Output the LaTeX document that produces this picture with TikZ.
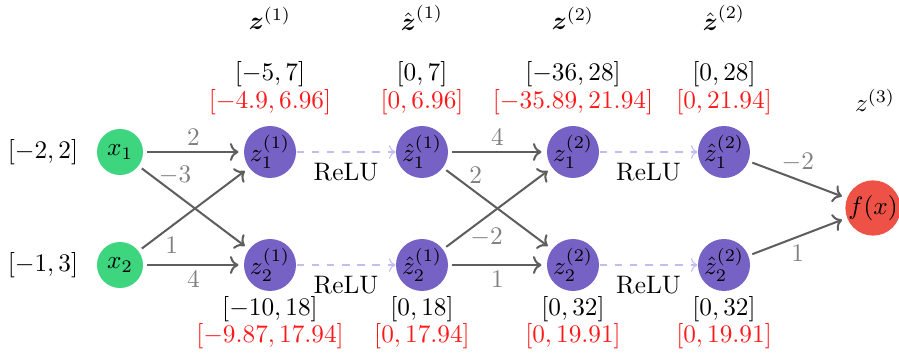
\documentclass[tikz,border=0pt]{standalone}
\usepackage{amsmath,amssymb}
\usepackage{tikz}
\usepackage{xcolor}
\usetikzlibrary{arrows.meta,positioning,calc}
\definecolor{inp}{HTML}{3DD67F}
\definecolor{hid}{HTML}{7661C5}
\definecolor{outc}{HTML}{EE5246}
\definecolor{edge}{HTML}{5E5E5E}
\definecolor{wgt}{HTML}{808080}
\definecolor{relu}{HTML}{C4BCF0}
\definecolor{bound}{HTML}{FF1A1A}
\tikzset{
  neuron/.style={circle, inner sep=0pt, minimum size=0.64cm},
  innode/.style={neuron, fill=inp},
  hidnode/.style={neuron, fill=hid},
  outnode/.style={neuron, fill=outc, minimum size=0.70cm},
  wire/.style={->, line width=0.8pt, draw=edge, shorten >=2pt, shorten <=1.5pt},
  reluarrow/.style={->, dashed, draw=relu, line width=0.45pt},
  weight/.style={text=wgt, inner sep=2pt},
  ivl/.style={text=black, inner sep=0pt},
  tight/.style={text=bound, inner sep=0pt}
}

\begin{document}
\begin{tikzpicture}[x=0.0139cm,y=-0.0139cm]
    \useasboundingbox (0,0) rectangle (899,358);
    % neurons
    \node[innode] (x1) at (120,152) {$x_1$};
    \node[innode] (x2) at (120,265) {$x_2$};
    \node[hidnode] (z11) at (270,152) {$z_1^{(1)}$};
    \node[hidnode] (z12) at (270,265) {$z_2^{(1)}$};
    \node[hidnode] (a11) at (422,152) {$\hat{z}_1^{(1)}$};
    \node[hidnode] (a12) at (422,265) {$\hat{z}_2^{(1)}$};
    \node[hidnode] (z21) at (573,152) {$z_1^{(2)}$};
    \node[hidnode] (z22) at (573,265) {$z_2^{(2)}$};
    \node[hidnode] (a21) at (724,152) {$\hat{z}_1^{(2)}$};
    \node[hidnode] (a22) at (724,265) {$\hat{z}_2^{(2)}$};
    \node[outnode] (fx) at (873,208) {$f(x)$};
    % layer names
    \node (h1) at (270,18) {$\boldsymbol{z}^{(1)}$};
    \node (h2) at (422,18) {$\hat{\boldsymbol{z}}^{(1)}$};
    \node (h3) at (573,18) {$\boldsymbol{z}^{(2)}$};
    \node (h4) at (724,18) {$\hat{\boldsymbol{z}}^{(2)}$};
    \node (h5) at (875,100) {$z^{(3)}$};
    % input bounds
    \node[ivl] (b1) at (43,152) {$[-2,2]$};
    \node[ivl] (b2) at (43,265) {$[-1,3]$};
    % bounds above and below
    \foreach \px/\lo/\hi in {270/{[-5,7]}/{[-4.9,6.96]}, 422/{[0,7]}/{[0,6.96]},
                             573/{[-36,28]}/{[-35.89,21.94]}, 724/{[0,28]}/{[0,21.94]}} {
      \node[ivl] at (\px,74) {$\lo$};
      \node[tight] at (\px,102) {$\hi$};
    }
    \foreach \px/\lo/\hi in {270/{[-10,18]}/{[-9.87,17.94]}, 422/{[0,18]}/{[0,17.94]},
                             573/{[0,32]}/{[0,19.91]}, 724/{[0,32]}/{[0,19.91]}} {
      \node[ivl] at (\px,309) {$\lo$};
      \node[tight] at (\px,336) {$\hi$};
    }
    % affine layer 1
    \draw[wire] (x1) -- node[weight, above] {$2$} (z11);
    \draw[wire] (x1) -- node[weight, pos=0.33, above, yshift=1pt] {$-3$} (z12);
    \draw[wire] (x2) -- node[weight, pos=0.3, below, yshift=-2pt] {$1$} (z11);
    \draw[wire] (x2) -- node[weight, below] {$4$} (z12);
    % relu
    \draw[reluarrow] (z11) -- node[below, yshift=-1pt] {ReLU} (a11);
    \draw[reluarrow] (z12) -- node[below, yshift=-1pt] {ReLU} (a12);
    % affine layer 2
    \draw[wire] (a11) -- node[weight, above] {$4$} (z21);
    \draw[wire] (a11) -- node[weight, pos=0.3, above, yshift=1pt] {$2$} (z22);
    \draw[wire] (a12) -- node[weight, pos=0.4, below, yshift=-2pt] {$-2$} (z21);
    \draw[wire] (a12) -- node[weight, below] {$1$} (z22);
    % relu
    \draw[reluarrow] (z21) -- node[below, yshift=-1pt] {ReLU} (a21);
    \draw[reluarrow] (z22) -- node[below, yshift=-1pt] {ReLU} (a22);
    % output
    \draw[wire] (a21) -- node[weight, pos=0.5, above, yshift=1pt] {$-2$} (fx);
    \draw[wire] (a22) -- node[weight, pos=0.5, below, yshift=-1pt] {$1$} (fx);
  \end{tikzpicture}
\end{document}
